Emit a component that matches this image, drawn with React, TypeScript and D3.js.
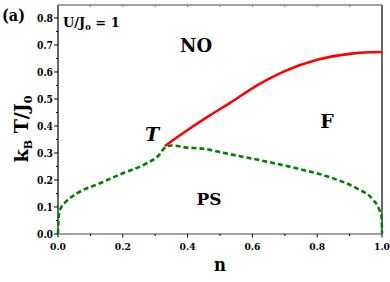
import React from "react";
import * as d3 from "d3";

const redN = [0.33, 0.40, 0.47, 0.53, 0.62, 0.70, 0.80, 0.90, 0.96, 1.0];
const redT = [0.326, 0.385, 0.44, 0.485, 0.554, 0.603, 0.645, 0.667, 0.673, 0.674];

const greenN = [0, 0.001, 0.004, 0.011, 0.02, 0.058, 0.13, 0.2, 0.274, 0.31, 0.335, 0.35, 0.397, 0.438, 0.541, 0.644, 0.747, 0.85, 0.922, 0.973, 0.99, 0.999, 1.0];
const greenT = [0, 0.04, 0.08, 0.101, 0.114, 0.15, 0.188, 0.225, 0.262, 0.29, 0.325, 0.328, 0.32, 0.317, 0.293, 0.268, 0.24, 0.206, 0.169, 0.126, 0.095, 0.06, 0];

const xTicks = [0, 0.2, 0.4, 0.6, 0.8, 1.0];
const xMinor = [0.1, 0.3, 0.5, 0.7, 0.9];
const yTicks = [0, 0.1, 0.2, 0.3, 0.4, 0.5, 0.6, 0.7, 0.8];
const yMinor = [0.05, 0.15, 0.25, 0.35, 0.45, 0.55, 0.65, 0.75];

const W = 390, H = 282;
const L = 58, R = 382, T = 5, B = 234;

export default function App() {
  const x = d3.scaleLinear().domain([0, 1]).range([L, R]);
  const y = d3.scaleLinear().domain([0, 0.848]).range([B, T]);
  const line = d3.line<[number, number]>().x(d => x(d[0])).y(d => y(d[1])).curve(d3.curveMonotoneX);
  const red = line(redN.map((n, i) => [n, redT[i]] as [number, number])) || "";
  const green = line(greenN.map((n, i) => [n, greenT[i]] as [number, number])) || "";
  const ts = { fontFamily: "DejaVu Serif, serif", fontWeight: 700 } as React.CSSProperties;
  return (
    <svg width={W} height={H} style={{ position: "absolute", left: 0, top: 0, background: "#fff" }}>
      <rect x={0} y={0} width={W} height={H} fill="#fff" />
      <line x1={L} x2={R} y1={T} y2={T} stroke="#808080" strokeWidth={1.5} />
      <line x1={R} x2={R} y1={T} y2={B} stroke="#000" strokeWidth={1.2} />
      <line x1={L} x2={L} y1={T} y2={B} stroke="#000" strokeWidth={1.2} />
      {xTicks.concat(xMinor).map((t, i) => (
        <line key={"tt" + i} x1={x(t)} x2={x(t)} y1={T} y2={T + 2} stroke="#808080" strokeWidth={1} />
      ))}
      <path d={green} fill="none" stroke="#008000" strokeWidth={2.6} strokeDasharray="5,3" />
      <path d={red} fill="none" stroke="#ff0000" strokeWidth={2.6} />
      <line x1={L} x2={R} y1={B} y2={B} stroke="#808080" strokeWidth={1.6} />
      {xTicks.map((t, i) => (
        <g key={"xt" + i}>
          <line x1={x(t)} x2={x(t)} y1={B} y2={B + 3.5} stroke="#000" strokeWidth={1} />
          <text x={x(t)} y={250} textAnchor="middle" fontSize={10} textLength={16} lengthAdjust="spacingAndGlyphs" style={ts}>{t.toFixed(1)}</text>
        </g>
      ))}
      {xMinor.map((t, i) => (
        <line key={"xm" + i} x1={x(t)} x2={x(t)} y1={B} y2={B + 2} stroke="#000" strokeWidth={1} />
      ))}
      {yTicks.map((t, i) => (
        <g key={"yt" + i}>
          <line x1={L - 4} x2={L} y1={y(t)} y2={y(t)} stroke="#000" strokeWidth={1} />
          <text x={L - 5} y={y(t) + 4} textAnchor="end" fontSize={10.5} textLength={16} lengthAdjust="spacingAndGlyphs" style={ts}>{t.toFixed(1)}</text>
        </g>
      ))}
      {yMinor.map((t, i) => (
        <line key={"ym" + i} x1={L - 2} x2={L} y1={y(t)} y2={y(t)} stroke="#000" strokeWidth={1} />
      ))}
      <text x={2} y={21} fontSize={17} textLength={23} lengthAdjust="spacingAndGlyphs" style={ts}>(a)</text>
      <text x={63} y={27} fontSize={13} style={ts}>
        U/J<tspan fontSize={8} dy={3}>0</tspan><tspan dy={-3}> = 1</tspan>
      </text>
      <text x={196} y={52} textAnchor="middle" fontSize={19} textLength={32} lengthAdjust="spacingAndGlyphs" style={ts}>NO</text>
      <text x={152} y={141} textAnchor="middle" fontSize={19} style={{ ...ts, fontStyle: "italic" }}>T</text>
      <text x={327} y={128} textAnchor="middle" fontSize={19} style={ts}>F</text>
      <text x={209} y={205} textAnchor="middle" fontSize={17} textLength={25} lengthAdjust="spacingAndGlyphs" style={ts}>PS</text>
      <text x={220} y={271} textAnchor="middle" fontSize={19} textLength={12} lengthAdjust="spacingAndGlyphs" style={ts}>n</text>
      <text transform="translate(28,129) rotate(-90)" textAnchor="middle" fontSize={19} style={ts}>
        k<tspan fontSize={11} dy={4}>B</tspan><tspan dy={-4}> T/J</tspan><tspan fontSize={11} dy={4}>0</tspan>
      </text>
    </svg>
  );
}
